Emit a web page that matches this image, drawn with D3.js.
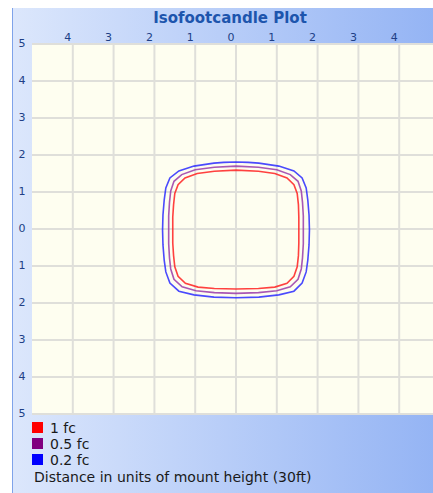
<!DOCTYPE html>
<html>
<head>
<meta charset="utf-8">
<script src="https://cdn.jsdelivr.net/npm/d3@7"></script>
<style>
body { margin: 0; background: #fff; }
svg { display: block; font-family: "DejaVu Sans", Verdana, sans-serif; }
</style>
</head>
<body>
<script>
// chart values
var title = "Isofootcandle Plot";
var xTicks = [-4, -3, -2, -1, 0, 1, 2, 3, 4];
var yTicks = [5, 4, 3, 2, 1, 0, -1, -2, -3, -4, -5];
var gridVals = [-4, -3, -2, -1, 0, 1, 2, 3, 4];
var levels = ["1 fc", "0.5 fc", "0.2 fc"];
var levelColors = ["#ff0000", "#800080", "#0000ff"];
var axisNote = "Distance in units of mount height (30ft)";

// contour outlines (x, y in mount heights)
var contour02 = [[0,1.81],[0.3,1.80],[0.56,1.78],[1.05,1.70],[1.42,1.57],[1.62,1.38],[1.72,1.11],[1.76,0.78],[1.79,0.38],[1.80,-0.03],[1.79,-0.43],[1.76,-0.84],[1.72,-1.16],[1.62,-1.46],[1.42,-1.68],[1.05,-1.78],[0.56,-1.84],[0,-1.86],[-0.54,-1.84],[-1.03,-1.78],[-1.40,-1.68],[-1.62,-1.46],[-1.72,-1.16],[-1.76,-0.84],[-1.79,-0.43],[-1.80,-0.03],[-1.79,0.38],[-1.76,0.78],[-1.72,1.11],[-1.62,1.38],[-1.40,1.57],[-1.03,1.70],[-0.54,1.78],[-0.3,1.80]];
var contour05 = [[0,1.70],[0.55,1.67],[1.00,1.60],[1.33,1.47],[1.52,1.29],[1.60,1.03],[1.63,0.72],[1.65,0.35],[1.65,-0.03],[1.65,-0.40],[1.63,-0.78],[1.60,-1.08],[1.52,-1.36],[1.33,-1.56],[1.00,-1.67],[0.55,-1.72],[0,-1.74],[-0.53,-1.72],[-0.98,-1.67],[-1.32,-1.56],[-1.52,-1.36],[-1.60,-1.08],[-1.63,-0.78],[-1.65,-0.40],[-1.65,-0.03],[-1.65,0.35],[-1.63,0.72],[-1.60,1.03],[-1.52,1.29],[-1.33,1.47],[-1.00,1.60],[-0.53,1.67]];
var contour1 = [[0,1.59],[0.55,1.56],[0.95,1.50],[1.25,1.38],[1.42,1.20],[1.50,0.96],[1.53,0.66],[1.54,0.32],[1.54,-0.03],[1.54,-0.38],[1.53,-0.72],[1.50,-1.02],[1.42,-1.28],[1.25,-1.47],[0.95,-1.57],[0.55,-1.61],[0,-1.62],[-0.53,-1.61],[-0.93,-1.57],[-1.24,-1.47],[-1.42,-1.28],[-1.50,-1.02],[-1.53,-0.72],[-1.55,-0.38],[-1.55,-0.03],[-1.55,0.32],[-1.53,0.66],[-1.50,0.96],[-1.42,1.20],[-1.25,1.38],[-0.95,1.50],[-0.53,1.56]];

var W = 433, H = 493;
var svg = d3.select("body").append("svg").attr("width", W).attr("height", H);

var defs = svg.append("defs");
var grad = defs.append("linearGradient").attr("id", "panelGrad")
    .attr("x1", "0%").attr("x2", "100%").attr("y1", "0%").attr("y2", "0%");
grad.append("stop").attr("offset", "0%").attr("stop-color", "#dce7fc");
grad.append("stop").attr("offset", "100%").attr("stop-color", "#93b3f4");

// outer panel
svg.append("rect").attr("x", 12).attr("y", 8).attr("width", 430).attr("height", H - 8)
    .attr("fill", "url(#panelGrad)");
svg.append("line").attr("x1", 12.5).attr("x2", 12.5).attr("y1", 8).attr("y2", H)
    .attr("stroke", "#7fa3ea").attr("stroke-width", 1);

var x = d3.scaleLinear().domain([-5, 5]).range([32, 440]);
var y = d3.scaleLinear().domain([5, -5]).range([44, 414]);

// plot area
svg.append("rect").attr("x", x(-5)).attr("y", y(5))
    .attr("width", x(5) - x(-5)).attr("height", y(-5) - y(5))
    .attr("fill", "#fefef0");

var grid = svg.append("g").attr("stroke", "#dfdfda").attr("stroke-width", 2);
grid.selectAll(".vg").data(gridVals).enter().append("line")
    .attr("x1", function(d) { return x(d); }).attr("x2", function(d) { return x(d); })
    .attr("y1", y(5)).attr("y2", y(-5));
grid.selectAll(".hg").data(gridVals).enter().append("line")
    .attr("x1", x(-5)).attr("x2", x(5))
    .attr("y1", function(d) { return y(d); }).attr("y2", function(d) { return y(d); });
grid.append("line").attr("x1", x(-5)).attr("x2", x(5)).attr("y1", y(5)).attr("y2", y(5));
grid.append("line").attr("x1", x(-5)).attr("x2", x(5)).attr("y1", y(-5)).attr("y2", y(-5));

// contours
var line = d3.line().x(function(d) { return x(d[0]); }).y(function(d) { return y(d[1]); })
    .curve(d3.curveLinearClosed);
var contours = [contour02, contour05, contour1];
var contourColors = ["#2a2aff", "#9a3aa8", "#ff2020"];
svg.append("g").selectAll("path").data(contours).enter().append("path")
    .attr("d", line)
    .attr("fill", "none")
    .attr("stroke", function(d, i) { return contourColors[i]; })
    .attr("stroke-width", 1.6)
    .attr("stroke-opacity", 0.85);

// title
svg.append("text").attr("x", 230).attr("y", 23).attr("text-anchor", "middle")
    .attr("font-size", 15).attr("font-weight", "bold").attr("fill", "#1d55ad")
    .text(title);

// top tick labels
svg.append("g").selectAll("text").data(xTicks).enter().append("text")
    .attr("x", function(d) { return x(d) - 5; })
    .attr("y", 41)
    .attr("text-anchor", "middle")
    .attr("font-size", 11).attr("fill", "#203f86")
    .text(function(d) { return Math.abs(d); });

// left tick labels
svg.append("g").selectAll("text").data(yTicks).enter().append("text")
    .attr("x", 22)
    .attr("y", function(d) { return y(d) + 3; })
    .attr("text-anchor", "middle")
    .attr("font-size", 11).attr("fill", "#203f86")
    .text(function(d) { return Math.abs(d); });

// legend
var leg = svg.append("g").selectAll("g").data(levels).enter().append("g")
    .attr("transform", function(d, i) { return "translate(32," + (422 + i * 16) + ")"; });
leg.append("rect").attr("width", 11).attr("height", 11)
    .attr("fill", function(d, i) { return levelColors[i]; });
leg.append("text").attr("x", 18).attr("y", 11)
    .attr("font-size", 14).attr("fill", "#1a1a1a")
    .text(function(d) { return d; });

svg.append("text").attr("x", 34).attr("y", 482)
    .attr("font-size", 14).attr("fill", "#1a1a1a")
    .text(axisNote);
</script>
</body>
</html>
